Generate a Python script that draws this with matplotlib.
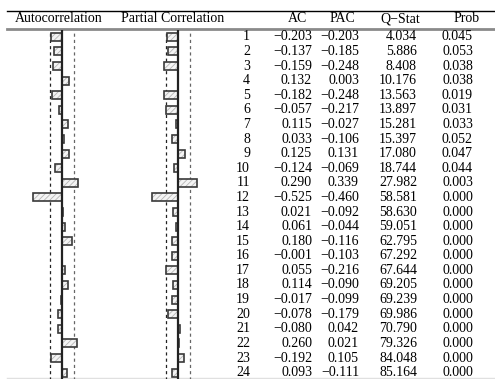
import matplotlib.pyplot as plt
import numpy as np

plt.rcParams["font.family"] = ["Liberation Serif", "DejaVu Serif"]
plt.rcParams["hatch.linewidth"] = 0.6

lags = list(range(1, 25))
ac = [-0.203, -0.137, -0.159, 0.132, -0.182, -0.057, 0.115, 0.033, 0.125, -0.124,
      0.290, -0.525, 0.021, 0.061, 0.180, -0.001, 0.055, 0.114, -0.017, -0.078,
      -0.080, 0.260, -0.192, 0.093]
pac = [-0.203, -0.185, -0.248, 0.003, -0.248, -0.217, -0.027, -0.106, 0.131, -0.069,
       0.339, -0.460, -0.092, -0.044, -0.116, -0.103, -0.216, -0.090, -0.099, -0.179,
       0.042, 0.021, 0.105, -0.111]
qstat = [4.034, 5.886, 8.408, 10.176, 13.563, 13.897, 15.281, 15.397, 17.080, 18.744,
         27.982, 58.581, 58.630, 59.051, 62.795, 67.292, 67.644, 69.205, 69.239, 69.986,
         70.790, 79.326, 84.048, 85.164]
prob = [0.045, 0.053, 0.038, 0.038, 0.019, 0.031, 0.033, 0.052, 0.047, 0.044,
        0.003] + [0.000] * 13
bound = 0.213

W, H = 495, 379
fig = plt.figure(figsize=(W / 100, H / 100), dpi=100)


def px_axes(x0, y0, x1, y1):
    """axes from pixel box (top-left origin)"""
    return fig.add_axes([x0 / W, 1 - y1 / H, (x1 - x0) / W, (y1 - y0) / H])


# background: rules and headers, in pixel coords
bg = px_axes(0, 0, W, H)
bg.set_xlim(0, W)
bg.set_ylim(H, 0)
bg.axis("off")
bg.plot([7, W], [10.5, 10.5], color="black", lw=1.0)
bg.plot([7, W], [28.5, 28.5], color="#8a8a8a", lw=2.0)
bg.plot([7, W], [377.5, 377.5], color="#e0e0e0", lw=1.0)
fs = 10
bg.text(59, 19, "Autocorrelation", ha="center", va="center", fontsize=fs)
bg.text(173, 19, "Partial Correlation", ha="center", va="center", fontsize=fs)
for x, s in [(297, "AC"), (342, "PAC"), (400, "Q\u2212Stat"), (467, "Prob")]:
    bg.text(x, 19, s, ha="center", va="center", fontsize=fs)

row0, dy = 29.5, 14.6
ytop, ybot = row0, row0 + 24 * dy


def correlogram(zero_px, vals):
    scale = 56.0
    lo, hi = -0.6, 0.6
    ax = px_axes(zero_px + lo * scale, ytop, zero_px + hi * scale, ybot)
    ax.set_xlim(lo, hi)
    ax.set_ylim(24.5, 0.5)
    ax.axis("off")
    ax.barh(lags, vals, height=0.55, color="#f4f4f4", edgecolor="#b5b5b5",
            hatch="//////", lw=0, zorder=2)
    ax.barh(lags, vals, height=0.55, fill=False, edgecolor="#3a3a3a",
            lw=1.2, zorder=3)
    ax.axvline(0, color="#222222", lw=1.6, zorder=4)
    ax.axvline(-bound, color="#222222", lw=0.9, ls=(0, (2.5, 2.5)), zorder=1)
    ax.axvline(bound, color="#666666", lw=0.9, ls=(0, (2.5, 2.5)), zorder=1)


correlogram(62, ac)
correlogram(178, pac)

# table
tab = px_axes(0, ytop, W, ybot)
tab.set_xlim(0, W)
tab.set_ylim(24.5, 0.5)
tab.axis("off")


def fmt(v):
    return f"{v:.3f}".replace("-", "\u2212")


for i, k in enumerate(lags):
    tab.text(250, k, str(k), ha="right", va="center", fontsize=fs)
    tab.text(312, k, fmt(ac[i]), ha="right", va="center", fontsize=fs)
    tab.text(359, k, fmt(pac[i]), ha="right", va="center", fontsize=fs)
    tab.text(417, k, fmt(qstat[i]), ha="right", va="center", fontsize=fs)
    tab.text(473, k, fmt(prob[i]), ha="right", va="center", fontsize=fs)

fig.savefig("out.png", dpi=100)
